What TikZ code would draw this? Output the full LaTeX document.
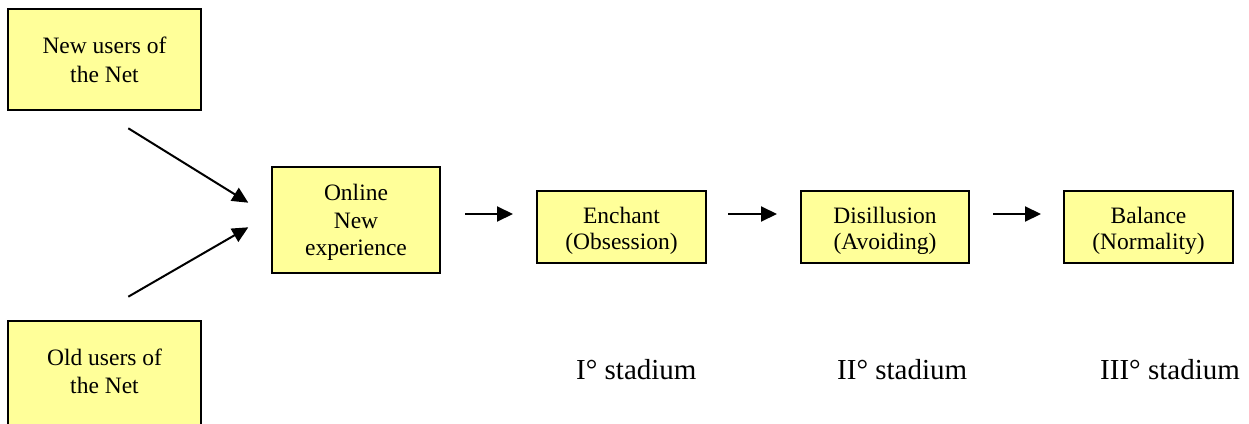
\documentclass[tikz,border=0pt]{standalone}
\usepackage{fontspec}
\setmainfont{Liberation Serif}
\usetikzlibrary{arrows.meta}
\definecolor{boxfill}{HTML}{FFFF99}
\tikzset{
  box/.style={draw=black, fill=boxfill, line width=2.5pt, inner sep=0pt, outer sep=0pt, anchor=north west},
  txt/.style={inner sep=0pt, anchor=base, font=\fontsize{23.5}{27}\selectfont},
  stage/.style={inner sep=0pt, anchor=base west, font=\fontsize{29}{34}\selectfont},
  arr/.style={line width=2pt, -{Triangle[length=16pt,width=15pt]}},
}
\begin{document}
\begin{tikzpicture}[x=1pt,y=-1pt]
\useasboundingbox (0,0) rectangle (1249,423);
\clip (0,0) rectangle (1249,423);
% boxes
\node[box, minimum width=193pt, minimum height=101pt] (newb) at (8,9) {};
\node[box, minimum width=193pt, minimum height=130pt] (oldb) at (8,321) {};
\node[box, minimum width=168pt, minimum height=106pt] (onb) at (272,167) {};
\node[box, minimum width=169pt, minimum height=72pt] (enb) at (537,191) {};
\node[box, minimum width=168pt, minimum height=72pt] (dib) at (801,191) {};
\node[box, minimum width=169pt, minimum height=72pt] (bab) at (1064,191) {};
% texts
\node[txt] (new1) at (104.5,53) {New users of};
\node[txt] (new2) at (104.5,82) {the Net};
\node[txt] (old1) at (104.5,365) {Old users of};
\node[txt] (old2) at (104.5,393) {the Net};
\node[txt] (on1) at (356,200) {Online};
\node[txt] (on2) at (356,228) {New};
\node[txt] (on3) at (356,255) {experience};
\node[txt] (en1) at (621.5,223) {Enchant};
\node[txt] (di1) at (885,223) {Disillusion};
\node[txt] (ba1) at (1148.5,223) {Balance};
\begin{scope}
  \clip (0,0) rectangle (1249,253);
  \node[txt] (en2) at (621.5,249) {(Obsession)};
  \node[txt] (di2) at (885,249) {(Avoiding)};
  \node[txt] (ba2) at (1148.5,249) {(Normality)};
\end{scope}
% stage labels
\node[stage] (st1) at (576,379) {I\textdegree{} stadium};
\node[stage] (st2) at (837,379) {II\textdegree{} stadium};
\node[stage] (st3) at (1100,379) {III\textdegree{} stadium};
% arrows
\coordinate (a1s) at (128.3,128.3);
\coordinate (a1e) at (248.3,202.7);
\coordinate (a2s) at (128.3,296.7);
\coordinate (a2e) at (248.3,227.3);
\coordinate (h1s) at (465,214);
\coordinate (h1e) at (513,214);
\coordinate (h2s) at (728,214);
\coordinate (h2e) at (777,214);
\coordinate (h3s) at (993,214);
\coordinate (h3e) at (1041,214);
\draw[arr] (a1s) -- (a1e);
\draw[arr] (a2s) -- (a2e);
\draw[arr] (h1s) -- (h1e);
\draw[arr] (h2s) -- (h2e);
\draw[arr] (h3s) -- (h3e);
\end{tikzpicture}
\end{document}
